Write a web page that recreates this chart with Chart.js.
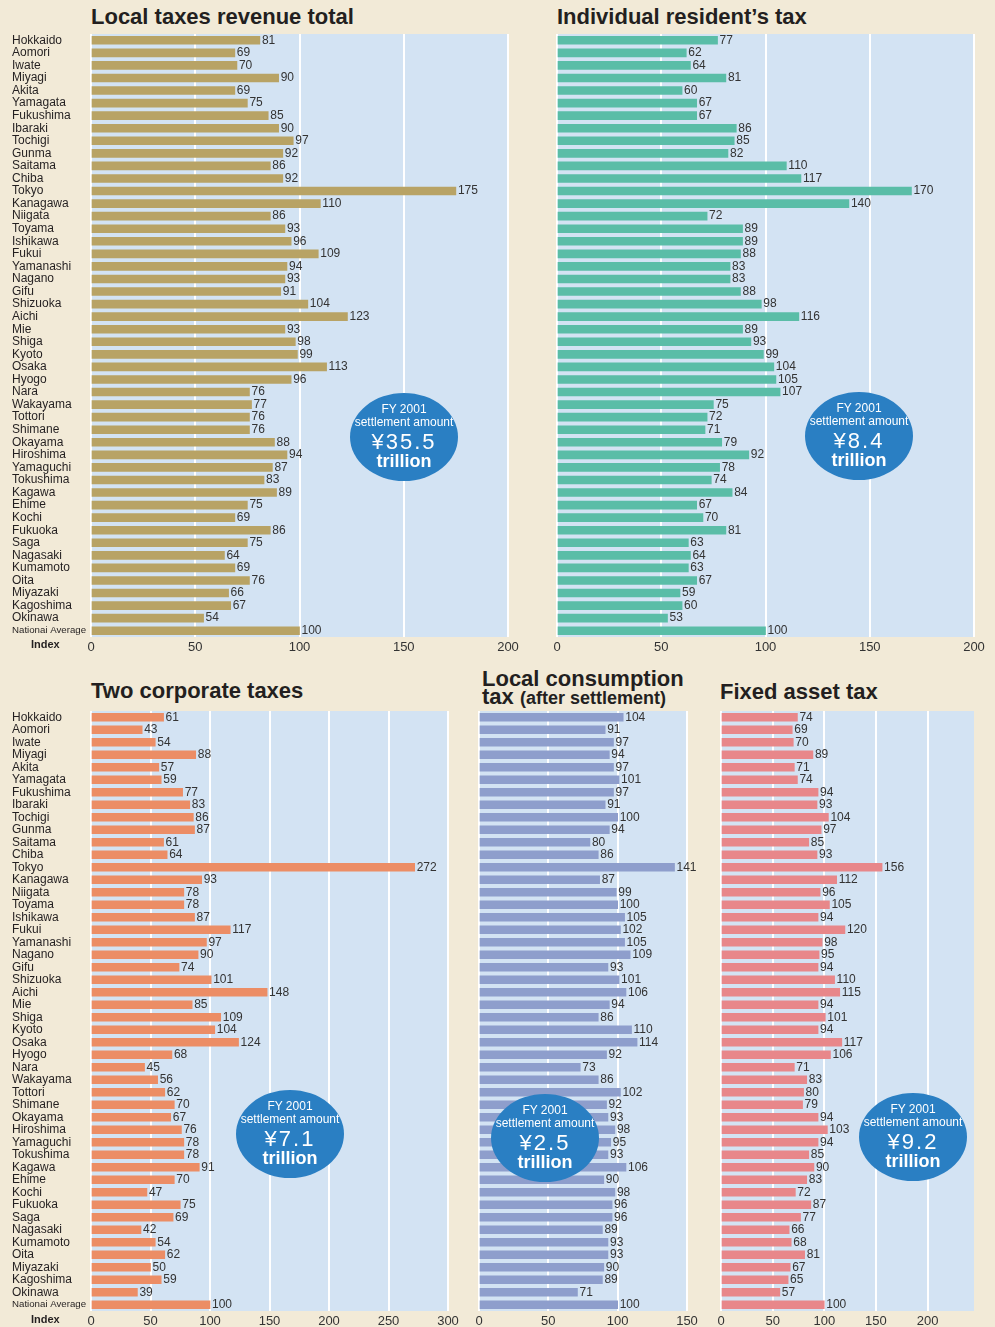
<!DOCTYPE html>
<html>
<head>
<meta charset="utf-8">
<script src="https://cdn.jsdelivr.net/npm/chart.js@4.4.1/dist/chart.umd.min.js"></script>
<style>
  html, body { margin: 0; padding: 0; }
  body {
    width: 995px; height: 1327px; position: relative; overflow: hidden;
    background: #f2ead7;
    font-family: "Liberation Sans", Arial, sans-serif;
    color: #231f20;
  }
  canvas { position: absolute; }
  .title { position: absolute; font-weight: bold; font-size: 22px; line-height: 22px; white-space: nowrap; }
  .title small { font-size: 18px; }
  .index { position: absolute; font-weight: bold; font-size: 11px; line-height: 12px; }
  .badge {
    position: absolute; width: 108px; height: 88px; border-radius: 50%;
    background: #2a7fc3; color: #fff; text-align: center; z-index: 5;
    box-sizing: border-box; padding-top: 10px;
  }
  .badge .l1 { font-size: 12px; line-height: 13px; }
  .badge .amt { font-size: 22px; line-height: 26px; letter-spacing: 2px; }
  .badge .tr { font-size: 18px; line-height: 12px; font-weight: bold; }
</style>
</head>
<body>

<div class="title" style="left:91px; top:6px;">Local taxes revenue total</div>
<div class="title" style="left:557px; top:6px;">Individual resident’s tax</div>
<div class="title" style="left:91px; top:680px;">Two corporate taxes</div>
<div class="title" style="left:482px; top:668px;">Local consumption</div>
<div class="title" style="left:482px; top:686px;">tax <small>(after settlement)</small></div>
<div class="title" style="left:720px; top:681px;">Fixed asset tax</div>

<canvas id="totalChart"></canvas>
<canvas id="residentChart"></canvas>
<canvas id="corporateChart"></canvas>
<canvas id="consumptionChart"></canvas>
<canvas id="assetChart"></canvas>

<div class="index" style="left:31px; top:638px;">Index</div>
<div class="index" style="left:31px; top:1313px;">Index</div>

<div class="badge" style="left:350px; top:393px;"><div class="l1">FY 2001</div><div class="l1">settlement amount</div><div class="amt">¥35.5</div><div class="tr">trillion</div></div>
<div class="badge" style="left:805px; top:392px;"><div class="l1">FY 2001</div><div class="l1">settlement amount</div><div class="amt">¥8.4</div><div class="tr">trillion</div></div>
<div class="badge" style="left:236px; top:1090px;"><div class="l1">FY 2001</div><div class="l1">settlement amount</div><div class="amt">¥7.1</div><div class="tr">trillion</div></div>
<div class="badge" style="left:491px; top:1094px;"><div class="l1">FY 2001</div><div class="l1">settlement amount</div><div class="amt">¥2.5</div><div class="tr">trillion</div></div>
<div class="badge" style="left:859px; top:1093px;"><div class="l1">FY 2001</div><div class="l1">settlement amount</div><div class="amt">¥9.2</div><div class="tr">trillion</div></div>

<script>
const prefectures = [
  "Hokkaido", "Aomori", "Iwate", "Miyagi", "Akita", "Yamagata", "Fukushima", "Ibaraki",
  "Tochigi", "Gunma", "Saitama", "Chiba", "Tokyo", "Kanagawa", "Niigata", "Toyama",
  "Ishikawa", "Fukui", "Yamanashi", "Nagano", "Gifu", "Shizuoka", "Aichi", "Mie",
  "Shiga", "Kyoto", "Osaka", "Hyogo", "Nara", "Wakayama", "Tottori", "Shimane",
  "Okayama", "Hiroshima", "Yamaguchi", "Tokushima", "Kagawa", "Ehime", "Kochi", "Fukuoka",
  "Saga", "Nagasaki", "Kumamoto", "Oita", "Miyazaki", "Kagoshima", "Okinawa", "Nationai Average"
];

const totalTaxValues = [81, 69, 70, 90, 69, 75, 85, 90, 97, 92, 86, 92, 175, 110, 86, 93,
  96, 109, 94, 93, 91, 104, 123, 93, 98, 99, 113, 96, 76, 77, 76, 76,
  88, 94, 87, 83, 89, 75, 69, 86, 75, 64, 69, 76, 66, 67, 54, 100];
const residentTaxValues = [77, 62, 64, 81, 60, 67, 67, 86, 85, 82, 110, 117, 170, 140, 72, 89,
  89, 88, 83, 83, 88, 98, 116, 89, 93, 99, 104, 105, 107, 75, 72, 71,
  79, 92, 78, 74, 84, 67, 70, 81, 63, 64, 63, 67, 59, 60, 53, 100];
const corporateTaxValues = [61, 43, 54, 88, 57, 59, 77, 83, 86, 87, 61, 64, 272, 93, 78, 78,
  87, 117, 97, 90, 74, 101, 148, 85, 109, 104, 124, 68, 45, 56, 62, 70,
  67, 76, 78, 78, 91, 70, 47, 75, 69, 42, 54, 62, 50, 59, 39, 100];
const consumptionTaxValues = [104, 91, 97, 94, 97, 101, 97, 91, 100, 94, 80, 86, 141, 87, 99, 100,
  105, 102, 105, 109, 93, 101, 106, 94, 86, 110, 114, 92, 73, 86, 102, 92,
  93, 98, 95, 93, 106, 90, 98, 96, 96, 89, 93, 93, 90, 89, 71, 100];
const assetTaxValues = [74, 69, 70, 89, 71, 74, 94, 93, 104, 97, 85, 93, 156, 112, 96, 105,
  94, 120, 98, 95, 94, 110, 115, 94, 101, 94, 117, 106, 71, 83, 80, 79,
  94, 103, 94, 85, 90, 83, 72, 87, 77, 66, 68, 81, 67, 65, 57, 100];

const ticks150 = [0, 50, 100, 150];
const ticks200 = [0, 50, 100, 150, 200];
const ticks300 = [0, 50, 100, 150, 200, 250, 300];

const FONT = '"Liberation Sans", Arial, sans-serif';

// light blue plot area behind the grid
const plotBackground = {
  id: 'plotBackground',
  beforeDraw(chart) {
    const { ctx, chartArea: a } = chart;
    ctx.save();
    ctx.fillStyle = '#d3e3f3';
    ctx.fillRect(a.left, a.top, a.right - a.left, a.bottom - a.top);
    ctx.restore();
  }
};

// numbers at the end of each bar
const valueLabels = {
  id: 'valueLabels',
  afterDatasetsDraw(chart) {
    const ctx = chart.ctx;
    const vals = chart.data.datasets[0].data;
    ctx.save();
    ctx.font = '12px ' + FONT;
    ctx.fillStyle = '#333';
    ctx.textBaseline = 'middle';
    chart.getDatasetMeta(0).data.forEach((bar, i) => {
      ctx.fillText(vals[i], bar.x + 2, bar.y);
    });
    ctx.restore();
  }
};

function drawPanel(id, box, values, color, xMax, xTicks, showNames) {
  const canvas = document.getElementById(id);
  canvas.width = box.w;
  canvas.height = box.padTop + box.plotH + 20;
  canvas.style.left = box.x + 'px';
  canvas.style.top = box.y + 'px';

  return new Chart(canvas, {
    type: 'bar',
    data: {
      labels: prefectures,
      datasets: [{
        data: values,
        backgroundColor: color,
        barThickness: 8,
        borderWidth: 0
      }]
    },
    options: {
      indexAxis: 'y',
      responsive: false,
      animation: false,
      devicePixelRatio: 1,
      layout: { padding: { top: box.padTop, left: box.padLeft, right: box.padRight, bottom: 0 } },
      plugins: { legend: { display: false }, tooltip: { enabled: false } },
      scales: {
        x: {
          min: 0,
          max: xMax,
          afterBuildTicks: scale => { scale.ticks = xTicks.map(v => ({ value: v })); },
          afterFit: scale => {
            scale.height = 20;
            scale.paddingLeft = 0;
            scale.paddingRight = 0;
          },
          grid: { color: '#ffffff', lineWidth: 2, drawTicks: false },
          border: { display: false },
          ticks: { color: '#333', padding: 3, font: { family: FONT, size: 13 } }
        },
        y: {
          display: showNames,
          afterFit: scale => {
            if (showNames) scale.width = 91 - box.padLeft;
            scale.paddingTop = 0;
            scale.paddingBottom = 0;
          },
          grid: { display: false },
          border: { display: false },
          ticks: {
            autoSkip: false,
            crossAlign: 'far',
            padding: 0,
            color: '#231f20',
            font: ctx => ctx.index === 47
              ? { family: FONT, size: 9.7 }
              : { family: FONT, size: 12 }
          }
        }
      }
    },
    plugins: [plotBackground, valueLabels]
  });
}

drawPanel('totalChart', { x: 0, y: 30, w: 520, padTop: 4, plotH: 603, padLeft: 12, padRight: 12 },
  totalTaxValues, '#b8a365', 200, ticks200, true);
drawPanel('residentChart', { x: 520, y: 30, w: 475, padTop: 4, plotH: 603, padLeft: 37, padRight: 21 },
  residentTaxValues, '#5abda7', 200, ticks200, false);
drawPanel('corporateChart', { x: 0, y: 705, w: 470, padTop: 6, plotH: 600, padLeft: 12, padRight: 22 },
  corporateTaxValues, '#ec8d65', 300, ticks300, true);
drawPanel('consumptionChart', { x: 470, y: 705, w: 235, padTop: 6, plotH: 600, padLeft: 9, padRight: 18 },
  consumptionTaxValues, '#8e9ecc', 150, ticks150, false);
drawPanel('assetChart', { x: 705, y: 705, w: 290, padTop: 6, plotH: 600, padLeft: 16, padRight: 21 },
  assetTaxValues, '#e8878a', 245, ticks200, false);
</script>
</body>
</html>
